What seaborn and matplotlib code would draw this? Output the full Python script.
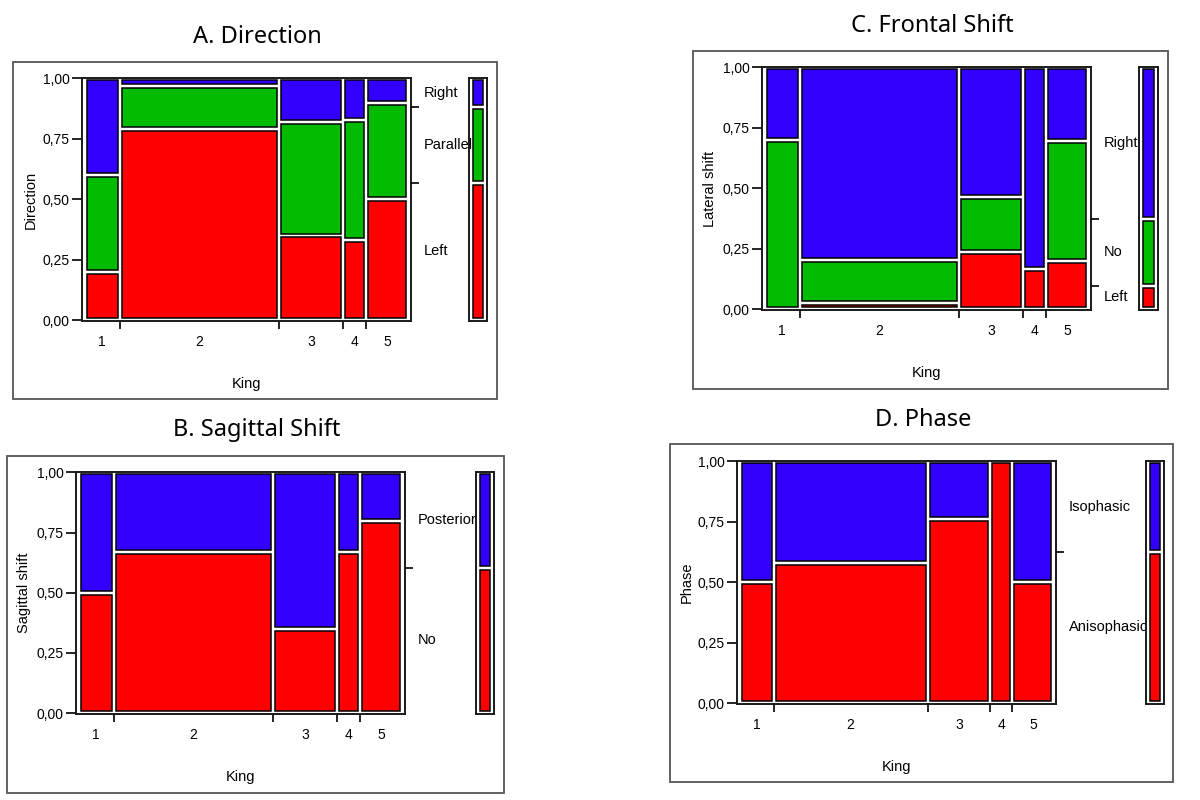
import numpy as np
import matplotlib
matplotlib.use("Agg")
import matplotlib.pyplot as plt
from matplotlib.patches import Rectangle
import seaborn as sns

# King categories and their share of observations (column widths)
king = ["1", "2", "3", "4", "5"]
king_share = [0.109, 0.490, 0.200, 0.070, 0.131]

y_ticks = [0.0, 0.25, 0.5, 0.75, 1.0]
y_tick_labels = ["0,00", "0,25", "0,50", "0,75", "1,00"]

# A. Direction (conditional proportions per king, bottom to top)
direction_levels = ["Left", "Parallel", "Right"]
direction_left = [0.20, 0.79, 0.35, 0.33, 0.50]
direction_parallel = [0.40, 0.18, 0.47, 0.50, 0.40]
direction_right = [0.40, 0.03, 0.18, 0.17, 0.10]

# B. Sagittal shift
sagittal_levels = ["No", "Posterior"]
sagittal_no = [0.50, 0.67, 0.35, 0.67, 0.80]
sagittal_posterior = [0.50, 0.33, 0.65, 0.33, 0.20]

# C. Frontal (lateral) shift
lateral_levels = ["Left", "No", "Right"]
lateral_left = [0.00, 0.025, 0.235, 0.165, 0.20]
lateral_no = [0.70, 0.18, 0.23, 0.00, 0.495]
lateral_right = [0.30, 0.795, 0.535, 0.835, 0.305]

# D. Phase
phase_levels = ["Anisophasic", "Isophasic"]
phase_aniso = [0.50, 0.58, 0.76, 1.00, 0.50]
phase_iso = [0.50, 0.42, 0.24, 0.00, 0.50]

RED = "#ff0000"
GREEN = "#00bb00"
BLUE = "#3300ff"

sns.set_style("white")
plt.rcParams["font.family"] = ["Liberation Sans", "DejaVu Sans"]
plt.rcParams["text.color"] = "black"
plt.rcParams["axes.labelcolor"] = "black"
plt.rcParams["xtick.color"] = "black"
plt.rcParams["ytick.color"] = "black"

W, H = 1200, 800
fig = plt.figure(figsize=(12, 8), dpi=100)


def box(x0, y0, x1, y1):
    return [x0 / W, 1 - y1 / H, (x1 - x0) / W, (y1 - y0) / H]


panels = [
    dict(title="A. Direction", ylabel="Direction",
         levels=direction_levels,
         values=[direction_left, direction_parallel, direction_right],
         colors=[RED, GREEN, BLUE],
         outer=(13, 62, 497, 399), ax=(82, 78, 411, 321), leg=(469, 78, 487, 321),
         title_xy=(257, 37)),
    dict(title="B. Sagittal Shift", ylabel="Sagittal shift",
         levels=sagittal_levels,
         values=[sagittal_no, sagittal_posterior],
         colors=[RED, BLUE],
         outer=(7, 456, 504, 793), ax=(76, 472, 405, 714), leg=(476, 472, 494, 714),
         title_xy=(257, 430)),
    dict(title="C. Frontal Shift", ylabel="Lateral shift",
         levels=lateral_levels,
         values=[lateral_left, lateral_no, lateral_right],
         colors=[RED, GREEN, BLUE],
         outer=(693, 51, 1168, 389), ax=(762, 67, 1091, 310), leg=(1139, 67, 1158, 310),
         title_xy=(932, 26)),
    dict(title="D. Phase", ylabel="Phase",
         levels=phase_levels,
         values=[phase_aniso, phase_iso],
         colors=[RED, BLUE],
         outer=(670, 444, 1173, 782), ax=(737, 461, 1056, 704), leg=(1146, 461, 1164, 704),
         title_xy=(923, 420)),
]

share = np.array(king_share)
edges = np.concatenate([[0], np.cumsum(share)])
centers = (edges[:-1] + edges[1:]) / 2
gap_px = 4.0
pad = 0.008

for p in panels:
    x0, y0, x1, y1 = p["ax"]
    aw, ah = x1 - x0, y1 - y0
    gx = gap_px / aw * (1 + 2 * pad)
    gy = gap_px / ah

    # outer frame and title
    ox0, oy0, ox1, oy1 = p["outer"]
    fig.patches.append(Rectangle((ox0 / W, 1 - oy1 / H), (ox1 - ox0) / W, (oy1 - oy0) / H,
                                 transform=fig.transFigure, fill=False,
                                 edgecolor="#555555", linewidth=1.3))
    fig.text(p["title_xy"][0] / W, 1 - p["title_xy"][1] / H, p["title"],
             ha="center", va="center", fontsize=17, color="black",
             family=["Noto Sans", "DejaVu Sans"])

    ax = fig.add_axes(box(*p["ax"]))
    vals = np.array(p["values"])
    for i in range(len(share)):
        bottom = 0.0
        for k, color in enumerate(p["colors"]):
            h = vals[k, i]
            if h > 0:
                ax.bar(edges[i] + gx / 2, h - gy, width=share[i] - gx,
                       bottom=bottom + gy / 2, align="edge", color=color,
                       edgecolor="black", linewidth=1.1)
            bottom += h

    ax.set_xlim(-pad, 1 + pad)
    ax.set_ylim(-0.004, 1.002)
    for s in ax.spines.values():
        s.set_visible(True)
        s.set_color("#1a1a1a")
        s.set_linewidth(1.4)
    ax.set_yticks(y_ticks)
    ax.set_yticklabels(y_tick_labels)
    ax.set_xticks(centers)
    ax.set_xticklabels(king)
    ax.set_xticks(edges[1:-1], minor=True)
    ax.tick_params(axis="y", which="major", left=True, direction="out",
                   length=7.5, width=1.2, pad=1.5, labelsize=10)
    ax.tick_params(axis="x", which="major", bottom=True, length=0, pad=10,
                   labelsize=10)
    ax.tick_params(axis="x", which="minor", bottom=True, direction="out",
                   length=5.5, width=1.2)
    ax.set_ylabel(p["ylabel"], fontsize=10.5)
    ax.set_xlabel("King", fontsize=10.5)
    ax.yaxis.label.set_verticalalignment("center")
    ax.xaxis.label.set_verticalalignment("center")
    ax.yaxis.set_label_coords(-0.157, 0.5)
    ax.xaxis.set_label_coords(0.5, -0.26)

    # marginal proportions
    marg = vals @ share
    cum = np.concatenate([[0], np.cumsum(marg)])
    cum[-1] = 1.0
    mids = (cum[:-1] + cum[1:]) / 2

    tw = ax.twinx()
    tw.set_ylim(ax.get_ylim())
    tw.set_yticks(cum[1:-1])
    tw.tick_params(axis="y", right=True, direction="out", length=6, width=1.2,
                   labelright=False)
    for s in tw.spines.values():
        s.set_visible(False)

    # marginal bar
    lg = fig.add_axes(box(*p["leg"]))
    lg.patch.set_alpha(0)
    lx0, ly0, lx1, ly1 = p["leg"]
    lgx = 4.0 / (lx1 - lx0)
    for k, color in enumerate(p["colors"]):
        lg.bar(lgx, marg[k] - gy, width=1 - 2 * lgx, bottom=cum[k] + gy / 2,
               align="edge", color=color, edgecolor="black", linewidth=1.1)
    lg.set_xlim(0, 1)
    lg.set_ylim(ax.get_ylim())
    lg.set_xticks([])
    lg.set_yticks([])
    for s in lg.spines.values():
        s.set_visible(True)
        s.set_color("#1a1a1a")
        s.set_linewidth(1.4)

    for lab, yc in zip(p["levels"], mids):
        ax.annotate(lab, xy=(1, yc), xycoords=("axes fraction", "data"),
                    xytext=(9, 0), textcoords="offset points",
                    va="center", ha="left", fontsize=10.5, zorder=5)

fig.savefig("out.png", dpi=100)
